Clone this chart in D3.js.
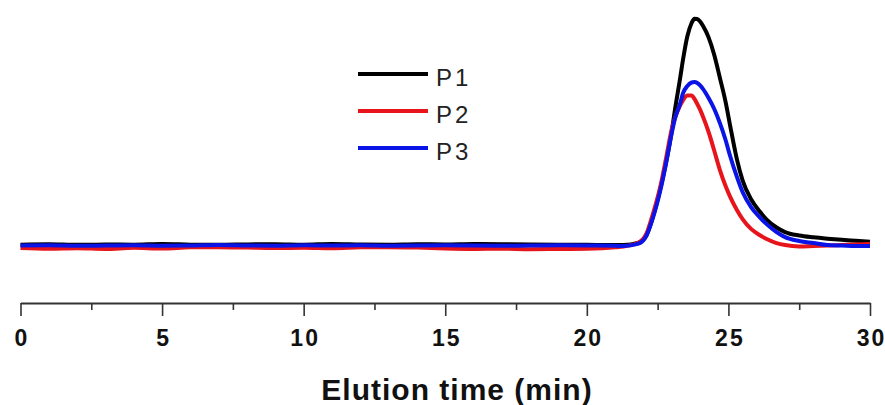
<!DOCTYPE html>
<html>
<head>
<meta charset="utf-8">
<script src="https://cdn.jsdelivr.net/npm/d3@7"></script>
<style>
  html, body { margin: 0; padding: 0; background: #fff; }
  svg { display: block; }
</style>
</head>
<body>
<svg id="chart" width="885" height="405"></svg>
<script>
// ---- data ----
const times = [0,1,2,3,4,5,6,7,8,9,10,11,12,13,14,15,16,17,18,19,20,21,
  21.3,21.8,22.1,22.3,22.6,22.8,23.0,23.1,23.3,23.4,23.55,23.7,23.8,23.9,24.0,
  24.1,24.3,24.5,24.7,24.9,25.05,25.3,25.5,25.8,26.1,26.35,26.7,27.0,27.5,
  28.0,28.5,29.0,29.5,30];

const p1 = [0.6,0.8,0.5,0.7,0.6,0.9,0.6,0.5,0.7,0.8,0.6,0.9,0.7,0.6,0.8,0.7,0.9,0.8,0.7,0.6,0.5,0.4,
  0.4,1.3,4.6,11.4,25.4,36.8,50.4,58.8,74.0,82.0,92.0,97.8,99.7,99.6,98.5,
  96.6,91.5,83.8,73.7,63.2,53.5,38.0,28.8,20.5,15.2,11.6,8.1,6.1,4.6,
  3.8,3.2,2.7,2.3,1.9];

const p2 = [-0.9,-1.2,-1.0,-1.3,-0.8,-1.1,-0.6,-0.5,-0.7,-0.9,-0.8,-1.0,-0.6,-0.5,-0.7,-1.1,-1.3,-1.2,-1.4,-1.3,-1.2,-0.6,
  -0.2,1.3,5.3,12.7,26.3,38.6,51.3,55.7,61.8,64.0,66.0,66.0,64.5,62.3,59.8,
  56.8,50.0,41.8,33.3,26.3,21.9,15.8,11.8,7.5,4.8,3.1,1.3,0.4,-0.2,
  0.0,0.2,0.4,0.7,0.9];

const p3 = [0.2,0.3,0.1,0.2,0.3,0.1,0.2,0.4,0.2,0.1,0.3,0.2,0.3,0.1,0.2,0.3,0.2,0.1,0.2,0.3,0.2,0.1,
  0.0,0.9,4.4,11.0,24.6,36.4,49.6,55.3,62.7,67.1,70.2,71.7,71.9,71.5,70.4,
  68.9,64.9,60.1,53.9,46.5,39.9,30.3,23.7,17.1,12.7,9.6,6.1,3.9,2.2,
  1.3,0.4,0.2,0.0,0.0];

const seriesNames = ["P1", "P2", "P3"];
const seriesColors = ["#000000", "#e8141b", "#0a14e6"];
const seriesValues = [p1, p2, p3];

const majorTicks = [0, 5, 10, 15, 20, 25, 30];
const minorTicks = [2.5, 7.5, 12.5, 17.5, 22.5, 27.5];
const xTitle = "Elution time (min)";

// ---- layout ----
const svg = d3.select("#chart");
const x = d3.scaleLinear().domain([0, 30]).range([20.5, 870]);
const y = d3.scaleLinear().domain([0, 100]).range([246, 18]);
const axisY = 303;

// ---- lines (drawn black, red, then blue on top) ----
const line = d3.line()
  .x((d, i) => x(times[i]))
  .y(d => y(d))
  .curve(d3.curveMonotoneX);

svg.append("g").selectAll("path")
  .data(seriesValues)
  .join("path")
  .attr("d", d => line(d))
  .attr("fill", "none")
  .attr("stroke", (d, i) => seriesColors[i])
  .attr("stroke-width", 4)
  .attr("stroke-linejoin", "round")
  .attr("stroke-linecap", "butt");

// ---- x axis ----
const gMinor = svg.append("g")
  .attr("transform", `translate(0,${axisY})`)
  .call(d3.axisBottom(x).tickValues(minorTicks).tickSize(7).tickSizeOuter(0).tickFormat(""));
gMinor.select(".domain").remove();
gMinor.selectAll("line").attr("stroke", "#333").attr("stroke-width", 1.6);

const gMajor = svg.append("g")
  .attr("transform", `translate(0,${axisY})`)
  .call(d3.axisBottom(x).tickValues(majorTicks).tickSize(13).tickSizeOuter(0).tickPadding(14)
        .tickFormat(d3.format("d")));
gMajor.select(".domain").attr("stroke", "#333").attr("stroke-width", 2);
gMajor.selectAll(".tick line").attr("stroke", "#333").attr("stroke-width", 1.6);
gMajor.selectAll(".tick text")
  .attr("fill", "#111")
  .style("font-family", "Arial, 'Liberation Sans', sans-serif")
  .style("font-weight", "bold")
  .style("font-size", "23px")
  .style("letter-spacing", "2px")
  .attr("dx", "1px");

svg.append("text")
  .attr("x", 457)
  .attr("y", 400)
  .attr("text-anchor", "middle")
  .attr("fill", "#111")
  .style("font-family", "Arial, 'Liberation Sans', sans-serif")
  .style("font-weight", "bold")
  .style("font-size", "30px")
  .style("letter-spacing", "1px")
  .text(xTitle);

// ---- legend ----
const legend = svg.append("g").attr("transform", "translate(358,74)");
const items = legend.selectAll("g")
  .data(seriesNames)
  .join("g")
  .attr("transform", (d, i) => `translate(0,${i * 37})`);
items.append("line")
  .attr("x1", 0).attr("x2", 70)
  .attr("y1", 0).attr("y2", 0)
  .attr("stroke", (d, i) => seriesColors[i])
  .attr("stroke-width", 4);
items.append("text")
  .attr("x", 78)
  .attr("y", 12)
  .attr("fill", "#222")
  .style("font-family", "Arial, 'Liberation Sans', sans-serif")
  .style("font-size", "24px")
  .style("letter-spacing", "3px")
  .text(d => d);
</script>
</body>
</html>
